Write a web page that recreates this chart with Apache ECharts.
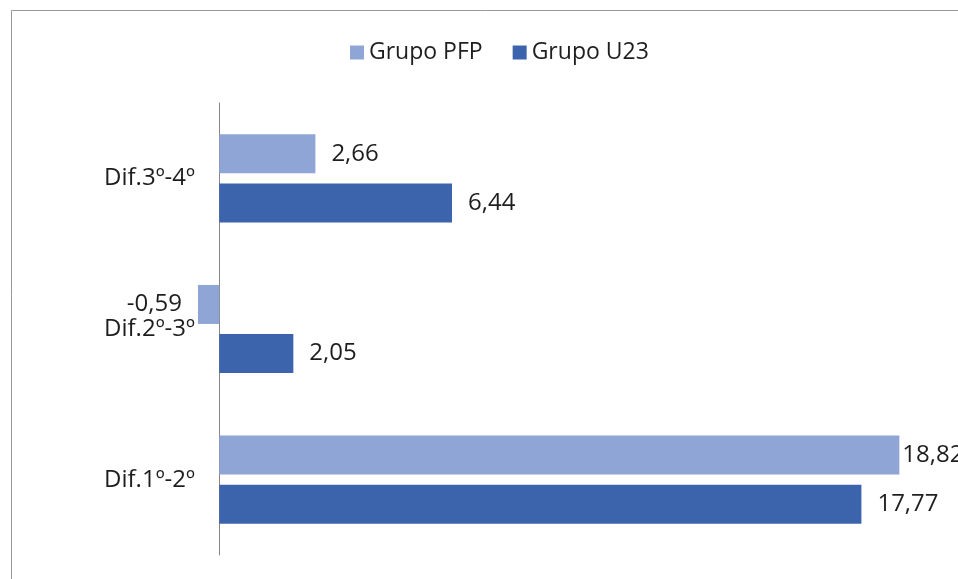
<!DOCTYPE html>
<html>
<head>
<meta charset="utf-8">
<script src="https://cdn.jsdelivr.net/npm/echarts@6/dist/echarts.min.js"></script>
<style>
  html, body { margin: 0; padding: 0; background: #fff; }
  #chart { width: 958px; height: 579px; }
</style>
</head>
<body>
<div id="chart"></div>
<script>
// datos
const categorias = ['Dif.1º-2º', 'Dif.2º-3º', 'Dif.3º-4º']
const grupoPFP = [18.82, -0.59, 2.66]
const grupoU23 = [17.77, 2.05, 6.44]
const series_nombres = ['Grupo PFP', 'Grupo U23']

const txt = '#1e1e1e'
const fuente = '"Open Sans", "Noto Sans", sans-serif'

let fmt = function(p) {
  return String(p.value.toFixed(2)).replace('.', ',')
}

let myChart = echarts.init(document.getElementById('chart'))
myChart.setOption({
  animation: false,
  color: ['#8FA5D6', '#3C64AC'],
  textStyle: { fontFamily: fuente },
  graphic: [{
    type: 'rect',
    shape: { x: 11.5, y: 10.5, width: 1000, height: 700 },
    style: { fill: 'none', stroke: '#999', lineWidth: 1 },
    silent: true
  }],
  legend: {
    data: series_nombres,
    left: 345,
    top: 36,
    icon: 'rect',
    itemWidth: 14,
    itemHeight: 14,
    itemGap: 30,
    textStyle: { fontSize: 23, color: txt, fontFamily: fuente }
  },
  grid: {
    top: 103,
    bottom: 24,
    left: 147,
    right: 16
  },
  xAxis: {
    type: 'value',
    min: -2,
    max: 20,
    show: false
  },
  yAxis: {
    type: 'category',
    data: categorias,
    axisLine: { show: true, lineStyle: { color: '#868686', width: 1 } },
    axisTick: { show: false },
    // etiquetas junto a la linea del cero
    axisLabel: { color: txt, fontSize: 24, margin: -48, fontFamily: fuente }
  },
  series: [
    {
      name: series_nombres[0],
      type: 'bar',
      barWidth: 39,
      barGap: '26%',
      data: grupoPFP.map((v, i) => {
        let d = { value: v }
        if (v < 0) d.label = { position: 'left', distance: 16 }
        if (v > 18) d.label = { position: 'right', distance: 3 }
        return d
      }),
      label: { show: true, position: 'right', distance: 16, color: txt, fontSize: 24, formatter: fmt }
    },
    {
      name: series_nombres[1],
      type: 'bar',
      barWidth: 39,
      barGap: '26%',
      data: grupoU23,
      label: { show: true, position: 'right', distance: 16, color: txt, fontSize: 24, formatter: fmt }
    }
  ]
})
</script>
</body>
</html>
